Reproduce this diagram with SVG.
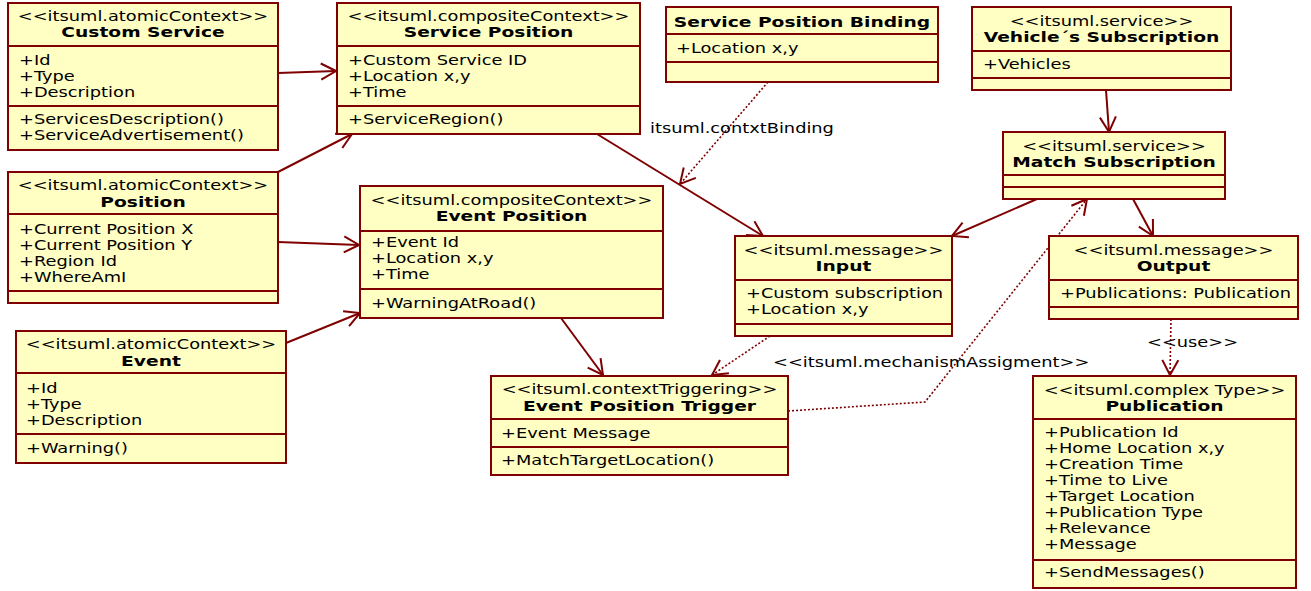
<svg xmlns="http://www.w3.org/2000/svg" width="1311" height="591" viewBox="0 0 1311 591">
<style>
.box{fill:#FFFFC4;stroke:#7F0000;stroke-width:2}
.dv{stroke:#7F0000;stroke-width:2}
text{font-family:"DejaVu Sans","Verdana",sans-serif;fill:#000;font-size:14px}
.c{text-anchor:middle}
.b{font-weight:bold;font-size:14.7px}
.sol{fill:none;stroke:#7F0000;stroke-width:2}
.dot{fill:none;stroke:#7F0000;stroke-width:1.6;stroke-dasharray:2 2}
</style>
<defs>
<marker id="ah" markerUnits="userSpaceOnUse" markerWidth="18" markerHeight="20" viewBox="-1 -1 18 20" refX="15" refY="8" orient="auto">
<path d="M0,0 L15,8 L0,16" fill="none" stroke="#7F0000" stroke-width="2" stroke-dasharray="none"/>
</marker>
</defs>

<g id="connectors">
<line class="sol" x1="278" y1="73" x2="336" y2="71" marker-end="url(#ah)"/>
<line class="sol" x1="278" y1="172" x2="352" y2="134" marker-end="url(#ah)"/>
<line class="sol" x1="278" y1="242" x2="359" y2="245" marker-end="url(#ah)"/>
<line class="sol" x1="286" y1="343" x2="360" y2="313" marker-end="url(#ah)"/>
<line class="sol" x1="597" y1="134" x2="763" y2="236" marker-end="url(#ah)"/>
<line class="dot" x1="768" y1="82" x2="680" y2="184" marker-end="url(#ah)"/>
<line class="sol" x1="1037" y1="199" x2="952" y2="236" marker-end="url(#ah)"/>
<line class="sol" x1="1133" y1="199" x2="1153" y2="236" marker-end="url(#ah)"/>
<line class="sol" x1="1106" y1="90" x2="1109" y2="132" marker-end="url(#ah)"/>
<line class="dot" x1="770" y1="336" x2="712" y2="375" marker-end="url(#ah)"/>
<polyline class="dot" points="788,411 925,402 1087,199" marker-end="url(#ah)"/>
<line class="sol" x1="561" y1="318" x2="603" y2="375" marker-end="url(#ah)"/>
<line class="dot" x1="1171" y1="319" x2="1170" y2="375" marker-end="url(#ah)"/>
<text transform="matrix(1.27 0 0 1 650 133)">itsuml.contxtBinding</text>
<text transform="matrix(1.27 0 0 1 773 367)">&lt;&lt;itsuml.mechanismAssigment&gt;&gt;</text>
<text transform="matrix(1.27 0 0 1 1147 347)">&lt;&lt;use&gt;&gt;</text>
</g>

<g id="custom-service">
<rect class="box" x="8" y="3" width="270" height="147"/>
<line class="dv" x1="8" y1="46" x2="278" y2="46"/>
<line class="dv" x1="8" y1="106" x2="278" y2="106"/>
<text class="c" transform="matrix(1.27 0 0 1 143 21)">&lt;&lt;itsuml.atomicContext&gt;&gt;</text>
<text class="c b" transform="matrix(1.27 0 0 1 143 37)">Custom Service</text>
<text transform="matrix(1.27 0 0 1 19 65)">+Id</text>
<text transform="matrix(1.27 0 0 1 19 81)">+Type</text>
<text transform="matrix(1.27 0 0 1 19 97)">+Description</text>
<text transform="matrix(1.27 0 0 1 19 124)">+ServicesDescription()</text>
<text transform="matrix(1.27 0 0 1 19 140)">+ServiceAdvertisement()</text>
</g>

<g id="service-position">
<rect class="box" x="337" y="3" width="303" height="131"/>
<line class="dv" x1="337" y1="46" x2="640" y2="46"/>
<line class="dv" x1="337" y1="106" x2="640" y2="106"/>
<text class="c" transform="matrix(1.27 0 0 1 488.5 21)">&lt;&lt;itsuml.compositeContext&gt;&gt;</text>
<text class="c b" transform="matrix(1.27 0 0 1 488.5 37)">Service Position</text>
<text transform="matrix(1.27 0 0 1 348 65)">+Custom Service ID</text>
<text transform="matrix(1.27 0 0 1 348 81)">+Location x,y</text>
<text transform="matrix(1.27 0 0 1 348 97)">+Time</text>
<text transform="matrix(1.27 0 0 1 348 124)">+ServiceRegion()</text>
</g>

<g id="service-position-binding">
<rect class="box" x="666" y="7" width="272" height="75"/>
<line class="dv" x1="666" y1="34" x2="938" y2="34"/>
<line class="dv" x1="666" y1="62" x2="938" y2="62"/>
<text class="c b" transform="matrix(1.27 0 0 1 802 27)">Service Position Binding</text>
<text transform="matrix(1.27 0 0 1 676 53)">+Location x,y</text>
</g>

<g id="vehicles-subscription">
<rect class="box" x="972" y="7" width="259" height="83"/>
<line class="dv" x1="972" y1="51" x2="1231" y2="51"/>
<line class="dv" x1="972" y1="78" x2="1231" y2="78"/>
<text class="c" transform="matrix(1.27 0 0 1 1101.5 26)">&lt;&lt;itsuml.service&gt;&gt;</text>
<text class="c b" transform="matrix(1.27 0 0 1 1101.5 42)">Vehicle´s Subscription</text>
<text transform="matrix(1.27 0 0 1 983 69)">+Vehicles</text>
</g>

<g id="match-subscription">
<rect class="box" x="1003" y="132" width="222" height="67"/>
<line class="dv" x1="1003" y1="175" x2="1225" y2="175"/>
<line class="dv" x1="1003" y1="187" x2="1225" y2="187"/>
<text class="c" transform="matrix(1.27 0 0 1 1114 151)">&lt;&lt;itsuml.service&gt;&gt;</text>
<text class="c b" transform="matrix(1.27 0 0 1 1114 167)">Match Subscription</text>
</g>

<g id="position">
<rect class="box" x="8" y="172" width="270" height="131"/>
<line class="dv" x1="8" y1="214" x2="278" y2="214"/>
<line class="dv" x1="8" y1="291" x2="278" y2="291"/>
<text class="c" transform="matrix(1.27 0 0 1 143 190)">&lt;&lt;itsuml.atomicContext&gt;&gt;</text>
<text class="c b" transform="matrix(1.27 0 0 1 143 207)">Position</text>
<text transform="matrix(1.27 0 0 1 19 234)">+Current Position X</text>
<text transform="matrix(1.27 0 0 1 19 250)">+Current Position Y</text>
<text transform="matrix(1.27 0 0 1 19 266)">+Region Id</text>
<text transform="matrix(1.27 0 0 1 19 282)">+WhereAmI</text>
</g>

<g id="event">
<rect class="box" x="16" y="331" width="270" height="132"/>
<line class="dv" x1="16" y1="373" x2="286" y2="373"/>
<line class="dv" x1="16" y1="434" x2="286" y2="434"/>
<text class="c" transform="matrix(1.27 0 0 1 151 349)">&lt;&lt;itsuml.atomicContext&gt;&gt;</text>
<text class="c b" transform="matrix(1.27 0 0 1 151 366)">Event</text>
<text transform="matrix(1.27 0 0 1 26 393)">+Id</text>
<text transform="matrix(1.27 0 0 1 26 409)">+Type</text>
<text transform="matrix(1.27 0 0 1 26 425)">+Description</text>
<text transform="matrix(1.27 0 0 1 26 453)">+Warning()</text>
</g>

<g id="event-position">
<rect class="box" x="360" y="186" width="303" height="132"/>
<line class="dv" x1="360" y1="231" x2="663" y2="231"/>
<line class="dv" x1="360" y1="289" x2="663" y2="289"/>
<text class="c" transform="matrix(1.27 0 0 1 511.5 205)">&lt;&lt;itsuml.compositeContext&gt;&gt;</text>
<text class="c b" transform="matrix(1.27 0 0 1 511.5 221)">Event Position</text>
<text transform="matrix(1.27 0 0 1 371 247)">+Event Id</text>
<text transform="matrix(1.27 0 0 1 371 263)">+Location x,y</text>
<text transform="matrix(1.27 0 0 1 371 279)">+Time</text>
<text transform="matrix(1.27 0 0 1 371 308)">+WarningAtRoad()</text>
</g>

<g id="event-position-trigger">
<rect class="box" x="491" y="376" width="297" height="99"/>
<line class="dv" x1="491" y1="419" x2="788" y2="419"/>
<line class="dv" x1="491" y1="447" x2="788" y2="447"/>
<text class="c" transform="matrix(1.27 0 0 1 639.5 394)">&lt;&lt;itsuml.contextTriggering&gt;&gt;</text>
<text class="c b" transform="matrix(1.27 0 0 1 639.5 411)">Event Position Trigger</text>
<text transform="matrix(1.27 0 0 1 501 438)">+Event Message</text>
<text transform="matrix(1.27 0 0 1 501 465)">+MatchTargetLocation()</text>
</g>

<g id="input">
<rect class="box" x="735" y="236" width="217" height="100"/>
<line class="dv" x1="735" y1="280" x2="952" y2="280"/>
<line class="dv" x1="735" y1="324" x2="952" y2="324"/>
<text class="c" transform="matrix(1.27 0 0 1 843.5 255)">&lt;&lt;itsuml.message&gt;&gt;</text>
<text class="c b" transform="matrix(1.27 0 0 1 843.5 271)">Input</text>
<text transform="matrix(1.27 0 0 1 746 298)">+Custom subscription</text>
<text transform="matrix(1.27 0 0 1 746 314)">+Location x,y</text>
</g>

<g id="output">
<rect class="box" x="1049" y="236" width="249" height="83"/>
<line class="dv" x1="1049" y1="280" x2="1298" y2="280"/>
<line class="dv" x1="1049" y1="307" x2="1298" y2="307"/>
<text class="c" transform="matrix(1.27 0 0 1 1173.5 255)">&lt;&lt;itsuml.message&gt;&gt;</text>
<text class="c b" transform="matrix(1.27 0 0 1 1173.5 271)">Output</text>
<text transform="matrix(1.27 0 0 1 1060 298)">+Publications: Publication</text>
</g>

<g id="publication">
<rect class="box" x="1033" y="376" width="263" height="212"/>
<line class="dv" x1="1033" y1="419" x2="1296" y2="419"/>
<line class="dv" x1="1033" y1="560" x2="1296" y2="560"/>
<text class="c" transform="matrix(1.27 0 0 1 1164.5 395)">&lt;&lt;itsuml.complex Type&gt;&gt;</text>
<text class="c b" transform="matrix(1.27 0 0 1 1164.5 411)">Publication</text>
<text transform="matrix(1.27 0 0 1 1044 437)">+Publication Id</text>
<text transform="matrix(1.27 0 0 1 1044 453)">+Home Location x,y</text>
<text transform="matrix(1.27 0 0 1 1044 469)">+Creation Time</text>
<text transform="matrix(1.27 0 0 1 1044 485)">+Time to Live</text>
<text transform="matrix(1.27 0 0 1 1044 501)">+Target Location</text>
<text transform="matrix(1.27 0 0 1 1044 517)">+Publication Type</text>
<text transform="matrix(1.27 0 0 1 1044 533)">+Relevance</text>
<text transform="matrix(1.27 0 0 1 1044 549)">+Message</text>
<text transform="matrix(1.27 0 0 1 1044 577)">+SendMessages()</text>
</g>
</svg>
